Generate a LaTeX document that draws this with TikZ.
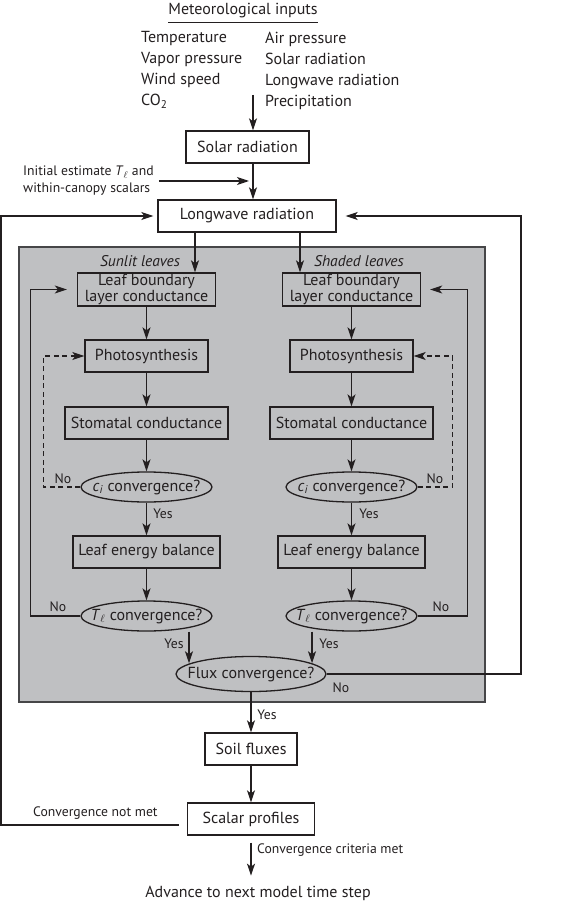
\documentclass[tikz,border=0pt]{standalone}
\usepackage{fontspec}
\setmainfont{PT Sans}
\usetikzlibrary{arrows.meta,shapes.geometric,calc}
\definecolor{panel}{RGB}{191,192,194}
\definecolor{ink}{RGB}{35,31,32}
\definecolor{rim}{RGB}{70,70,72}
\newcommand\ovtext[1]{\makebox[0pt][c]{#1}}
\begin{document}
\begin{tikzpicture}[x=1pt,y=-1pt,
  every node/.style={font=\fontsize{16}{18}\selectfont, text=ink},
  box/.style={draw=ink, line width=1.3pt, minimum height=32pt, inner sep=0pt, fill=white},
  gbox/.style={box, fill=panel},
  oval/.style={ellipse, draw=ink, line width=1.3pt, fill=panel, inner sep=0pt, minimum height=30pt, minimum width=131pt},
  small/.style={font=\fontsize{13.7}{17}\selectfont, inner sep=0pt},
  arr/.style={draw=ink, line width=1.3pt, -{Stealth[length=12pt,width=8pt,inset=3pt]}},
  ln/.style={draw=ink, line width=1.3pt},
  dashline/.style={dash pattern=on 5pt off 3.5pt},
]
\useasboundingbox (0,0) rectangle (561,904);
% canopy panel
\node[draw=rim, line width=1.4pt, fill=panel, minimum width=466pt, minimum height=455pt, inner sep=0pt] (canopy) at (252,474.5) {};

% top inputs
\node[font=\fontsize{16}{18}\selectfont, inner sep=0pt] (met) at (243,11) {Meteorological inputs};
\draw[ln] ([yshift=-4pt]met.south west) -- ([yshift=-4pt]met.south east);
\node[anchor=north west, align=left, inner sep=0pt, font=\fontsize{16}{21}\selectfont] (inl) at (141,31.5) {Temperature\\Vapor pressure\\Wind speed\\CO\textsubscript{2}};
\node[anchor=north west, align=left, inner sep=0pt, font=\fontsize{16}{21}\selectfont] (inr) at (265,31.5) {Air pressure\\Solar radiation\\Longwave radiation\\Precipitation};
\coordinate (inA) at (253,95);

\node[box, minimum width=123pt] (solar) at (247.5,147) {Solar radiation};
\node[box, minimum width=178pt] (longwave) at (247,216) {Longwave radiation};
\node[small, anchor=west, align=left] (init) at (23,181) {Initial estimate \textit{T}\textsubscript{$\ell$} and\\within-canopy scalars};
\coordinate (initEnd) at (249,181);

\draw[arr] (inA) -- (inA |- solar.north);
\draw[arr] (solar.south -| inA) -- (longwave.north -| inA);
\draw[arr] ([xshift=5pt]init.east |- initEnd) -- (initEnd);

% leaves headings
\node[font=\itshape\fontsize{15.5}{17}\selectfont, inner sep=0pt] (sun) at (140,261) {Sunlit leaves};
\node[font=\itshape\fontsize{15.5}{17}\selectfont, inner sep=0pt] (shd) at (359,261) {Shaded leaves};

% left column
\node[gbox, minimum width=138pt, minimum height=33pt, align=center, font=\fontsize{16}{14}\selectfont] (lbl) at (146.5,289.5) {Leaf boundary\\layer conductance};
\node[gbox, minimum width=123pt] (psl) at (146.5,356) {Photosynthesis};
\node[gbox, minimum width=163pt] (scl) at (146.5,423) {Stomatal conductance};
\node[oval] (cil) at (146.5,487) {\ovtext{\textit{c}\textsubscript{\textit{i}} convergence?}};
\node[gbox, minimum width=147pt] (lel) at (146.5,552) {Leaf energy balance};
\node[oval] (tl) at (146.5,616) {\ovtext{\textit{T}\textsubscript{$\ell$} convergence?}};

% right column
\node[gbox, minimum width=138pt, minimum height=33pt, align=center, font=\fontsize{16}{14}\selectfont] (lbr) at (351.5,289.5) {Leaf boundary\\layer conductance};
\node[gbox, minimum width=123pt] (psr) at (351.5,356) {Photosynthesis};
\node[gbox, minimum width=163pt] (scr) at (351.5,423) {Stomatal conductance};
\node[oval] (cir) at (351.5,487) {\ovtext{\textit{c}\textsubscript{\textit{i}} convergence?}};
\node[gbox, minimum width=147pt] (ler) at (351.5,552) {Leaf energy balance};
\node[oval] (tr) at (351.5,616) {\ovtext{\textit{T}\textsubscript{$\ell$} convergence?}};

\node[oval, minimum width=150pt, minimum height=35pt] (flux) at (251,674) {\ovtext{Flux convergence?}};
\node[box, minimum width=92pt] (soil) at (251,749) {Soil fluxes};
\node[box, minimum width=127pt] (scalar) at (251,819) {Scalar profiles};
\node[font=\fontsize{16}{18}\selectfont, inner sep=0pt] (adv) at (258,893) {Advance to next model time step};

\coordinate (xs) at (195,0);
\coordinate (xh) at (300,0);
\coordinate (xa) at (189,0);
\coordinate (xb) at (312,0);
\coordinate (loopL) at (1,0);
\coordinate (loopR) at (521,0);

\draw[arr] (longwave.south -| xs) -- (lbl.north -| xs);
\draw[arr] (longwave.south -| xh) -- (lbr.north -| xh);

\foreach \a/\b in {lbl/psl,psl/scl,scl/cil,cil/lel,lel/tl,lbr/psr,psr/scr,scr/cir,cir/ler,ler/tr,flux/soil,soil/scalar}
  \draw[arr] (\a) -- (\b);

\draw[arr, dashline] (cil.west) -- ++(-37,0) |- (psl.west);
\draw[arr, dashline] (cir.east) -- ++(35,0) |- (psr.east);
\draw[arr, shorten >=10pt] (tl.west) -- ++(-50,0) |- (lbl.west);
\draw[arr, shorten >=9pt] (tr.east) -- ++(50,0) |- (lbr.east);

\draw[arr] (tl.south -| xa) -- (xa |- flux.170);
\draw[arr] (tr.south -| xb) -- (xb |- flux.10);

\draw[arr, shorten >=9pt] (flux.east) -- (flux.east -| loopR) |- (longwave.east);
\draw[arr, shorten >=4pt] ([shift={(-8pt,-6pt)}]scalar.west) -| (loopL |- longwave.west) -- (longwave.west);
\draw[arr] ([yshift=-7pt]scalar.south) -- ++(0,33);

% labels
\node[small] (no1) at (63,479) {No};
\node[small] (no2) at (435,479) {No};
\node[small] (no3) at (58,607) {No};
\node[small] (no4) at (441,607) {No};
\node[small] (no5) at (341,688) {No};
\node[small] (y1) at (163,514) {Yes};
\node[small] (y2) at (369,514) {Yes};
\node[small] (y3) at (174,644) {Yes};
\node[small] (y4) at (329,644) {Yes};
\node[small] (y5) at (267,715) {Yes};
\node[small, anchor=west] (cnm) at (33,813) {Convergence not met};
\node[small, anchor=west] (ccm) at (257,850) {Convergence criteria met};
\end{tikzpicture}
\end{document}
